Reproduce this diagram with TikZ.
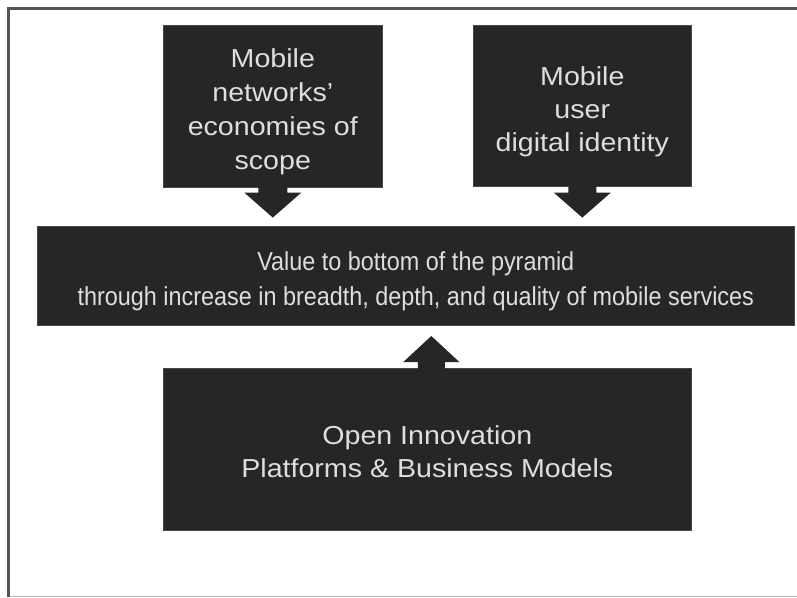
\documentclass[tikz,border=0pt]{standalone}
\usepackage{fontspec}
\setmainfont{Liberation Sans}
\newfontfamily\topfont{Liberation Sans}[FakeStretch=1.1]
\newfontfamily\midfont{Liberation Sans}[FakeStretch=0.9]
\usetikzlibrary{calc}
\definecolor{boxfill}{HTML}{262626}
\definecolor{boxtext}{HTML}{DEDEDE}
\definecolor{framegray}{HTML}{555555}
\definecolor{linegray}{HTML}{B4B4B4}
\tikzset{
  darkbox/.style={fill=boxfill, draw=boxfill!85!white, line width=0.6pt, inner sep=0pt, anchor=north west},
  boxtxt/.style={text=boxtext, align=center, inner sep=0pt},
  blockarrow/.style={fill=boxfill, draw=none}
}
\begin{document}
\begin{tikzpicture}[x=1pt,y=-1pt]
\useasboundingbox (0,0) rectangle (797,597);
\fill[white] (0,0) rectangle (797,597);
% frame
\draw[framegray, line width=3pt] (8.5,597) -- (8.5,8) -- (797,8);
\draw[linegray, line width=1pt] (10,596) -- (797,596);
% boxes
\node[darkbox, minimum width=219pt, minimum height=162pt] (b1) at (163,25) {};
\node[darkbox, minimum width=218pt, minimum height=161pt] (b2) at (473,25) {};
\node[darkbox, minimum width=757pt, minimum height=99pt] (mid) at (37,226) {};
\node[darkbox, minimum width=528pt, minimum height=162pt] (bot) at (163,368) {};
% texts
\node[boxtxt, font={\topfont\fontsize{26}{34}\selectfont}] (b1t) at ([yshift=-5pt]b1.center)
  {Mobile\\networks’\\economies of\\scope};
\node[boxtxt, font={\topfont\fontsize{26}{33}\selectfont}] (b2t) at ([yshift=-6pt]b2.center)
  {Mobile\\user\\digital identity};
\node[boxtxt, font={\midfont\fontsize{26}{35}\selectfont}] (midt) at ([yshift=-5pt]mid.center)
  {Value to bottom of the pyramid\\through increase in breadth, depth, and quality of mobile services};
\node[boxtxt, font={\topfont\fontsize{26}{33}\selectfont}] (bott) at ([yshift=-2pt]bot.center)
  {Open Innovation\\Platforms \& Business Models};
% block arrows
\fill[blockarrow] ($(b1.south)+(-14.5,-1)$) -- ($(b1.south)+(-14.5,5)$) -- ($(b1.south)+(-28.5,5)$)
  -- ($(b1.south)+(0,30)$) -- ($(b1.south)+(28.5,5)$) -- ($(b1.south)+(14.5,5)$) -- ($(b1.south)+(14.5,-1)$) -- cycle;
\fill[blockarrow] ($(b2.south)+(-14,-1)$) -- ($(b2.south)+(-14,6)$) -- ($(b2.south)+(-28.5,6)$)
  -- ($(b2.south)+(0,31)$) -- ($(b2.south)+(28.5,6)$) -- ($(b2.south)+(14,6)$) -- ($(b2.south)+(14,-1)$) -- cycle;
\fill[blockarrow] ($(bot.north)+(4-13.5,1)$) -- ($(bot.north)+(4-13.5,-6)$) -- ($(bot.north)+(4-28,-6)$)
  -- ($(bot.north)+(4,-32)$) -- ($(bot.north)+(4+28,-6)$) -- ($(bot.north)+(4+13.5,-6)$) -- ($(bot.north)+(4+13.5,1)$) -- cycle;
\end{tikzpicture}
\end{document}
